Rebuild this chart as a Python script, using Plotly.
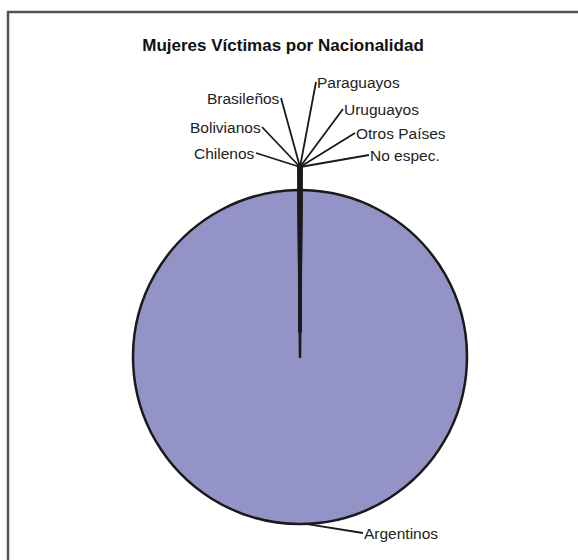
import math
import plotly.graph_objects as go

labels = ["Argentinos", "Chilenos", "Bolivianos", "Brasileños", "Paraguayos",
          "Uruguayos", "Otros Países", "No espec."]
values = [2900, 1, 2, 1, 2, 1, 1, 1]
colors = ["#9393C8", "#993366", "#FFFFCC", "#CCFFFF", "#660066", "#FF8080",
          "#0066CC", "#CCCCFF"]
pull = 0.075

W, H = 578, 560
dom_x = [120.5 / W, 479.5 / W]
dom_y = [36 / H, 395 / H]

# pie geometry as plotly computes it (used only to anchor label leader lines)
box_w = W * (dom_x[1] - dom_x[0])
box_h = H * (dom_y[1] - dom_y[0])
r = min(box_w, box_h) / (2 + 2 * pull)
cx = W * (dom_x[0] + dom_x[1]) / 2
cy = H * (1 - dom_y[0]) - box_h / 2
small_frac = sum(values[1:]) / sum(values)
rot = small_frac * 180

fig = go.Figure(go.Pie(
    labels=labels, values=values, sort=False, direction="clockwise",
    rotation=rot, pull=[pull] * len(values),
    marker=dict(colors=colors, line=dict(color="#1a1a1a", width=2.5)),
    textinfo="none", domain=dict(x=dom_x, y=dom_y),
    showlegend=False, hoverinfo="label+value",
))

# label placements: (text edge x, text centre y, anchor) in px
label_pos = {
    "Argentinos": (363, 533, "left"),
    "Chilenos": (256, 153, "right"),
    "Bolivianos": (262, 127, "right"),
    "Brasileños": (281, 98, "right"),
    "Paraguayos": (316, 82, "left"),
    "Uruguayos": (343, 109, "left"),
    "Otros Países": (355, 133, "left"),
    "No espec.": (369, 155, "left"),
}

annotations = []
for lab in labels:
    tx, ty, anc = label_pos[lab]
    if lab == "Argentinos":
        a = math.radians(178)
        hx = cx + r * math.sin(a)
        hy = cy + pull * r - r * math.cos(a)
    else:
        hx = cx
        hy = cy - pull * r - r + 2
    annotations.append(dict(
        x=hx / W, y=1 - hy / H, xref="paper", yref="paper",
        ax=tx - hx, ay=ty - hy, axref="pixel", ayref="pixel",
        text=lab, showarrow=True, arrowhead=0, arrowwidth=1.8, arrowcolor="#1a1a1a",
        xanchor=anc, yanchor="middle", standoff=0, borderpad=0,
        font=dict(family="Liberation Sans, Arial", size=15.5, color="#222"),
    ))

fig.update_layout(
    width=W, height=H, margin=dict(l=0, r=0, t=0, b=0),
    paper_bgcolor="white", plot_bgcolor="white",
    title=dict(text="Mujeres Víctimas por Nacionalidad", x=283 / W, xanchor="center",
               y=1 - 45 / H, yanchor="middle",
               font=dict(family="Liberation Sans, Arial", size=17, color="#111", weight="bold")),
    annotations=annotations,
    shapes=[dict(type="rect", xref="paper", yref="paper",
                 x0=8 / W, x1=1.05, y0=-0.05, y1=1 - 12 / H,
                 line=dict(color="#555", width=2.5), fillcolor="rgba(0,0,0,0)")],
)
fig.write_html("out.html", config={"displayModeBar": False},
               post_script="document.body.style.margin='0';")
